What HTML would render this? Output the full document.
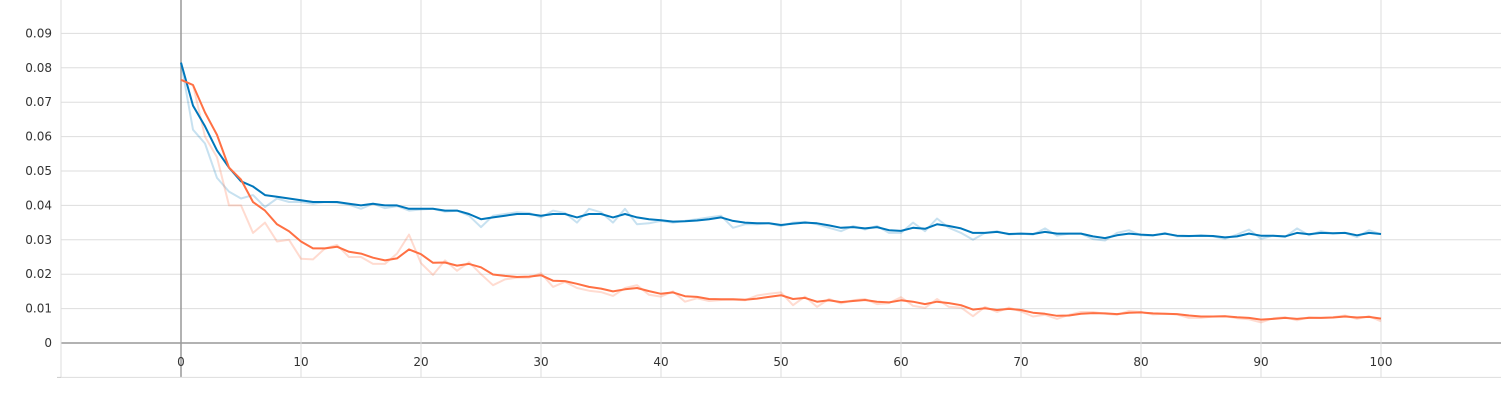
<!DOCTYPE html>
<html><head><meta charset="utf-8"><style>
html,body{margin:0;padding:0;background:#fff;}
svg{display:block;font-family:"DejaVu Sans","Liberation Sans",sans-serif;font-size:12px;}
</style></head><body>
<svg id="chart" width="1501" height="400" viewBox="0 0 1501 400" xmlns="http://www.w3.org/2000/svg">
<g id="grid"></g>
<g id="axes"></g>
<g id="series"></g>
</svg>
<script>
const xTicks = [0,10,20,30,40,50,60,70,80,90,100];
const yTicks = [0,0.01,0.02,0.03,0.04,0.05,0.06,0.07,0.08,0.09];
const blueSmooth = [0.0815,0.069,0.063,0.056,0.051,0.047,0.0455,0.043,0.0425,0.042,0.0415,0.041,0.041,0.041,0.0405,0.040,0.0405,0.040,0.040,0.039,0.039,0.039,0.0385,0.0385,0.0375,0.036,0.0365,0.037,0.0375,0.0375,0.037,0.0375,0.0375,0.0365,0.0375,0.0375,0.0365,0.0375,0.0365,0.036,0.0357,0.0353,0.0354,0.0356,0.036,0.0365,0.0355,0.035,0.0348,0.0348,0.0343,0.0347,0.035,0.0348,0.0342,0.0335,0.0337,0.0333,0.0337,0.0328,0.0326,0.0335,0.0332,0.0345,0.034,0.0333,0.032,0.032,0.0323,0.0317,0.0318,0.0317,0.0323,0.0318,0.0318,0.0318,0.031,0.0305,0.0313,0.0318,0.0315,0.0313,0.0318,0.0312,0.0311,0.0312,0.0311,0.0307,0.031,0.0318,0.0312,0.0312,0.031,0.032,0.0316,0.032,0.0319,0.032,0.0313,0.032,0.0317];
const blueRaw = [0.0815,0.062,0.058,0.048,0.044,0.042,0.043,0.0395,0.042,0.041,0.041,0.0405,0.041,0.0408,0.0402,0.039,0.0405,0.0392,0.0398,0.0385,0.0388,0.039,0.0382,0.0385,0.037,0.0337,0.037,0.0375,0.038,0.0378,0.0365,0.0385,0.0378,0.035,0.039,0.038,0.035,0.039,0.0345,0.0348,0.0355,0.035,0.0355,0.036,0.0365,0.037,0.0335,0.0345,0.0345,0.0348,0.034,0.035,0.0352,0.0345,0.0335,0.0325,0.034,0.033,0.034,0.032,0.032,0.035,0.0325,0.0362,0.0335,0.032,0.030,0.032,0.0325,0.0315,0.0318,0.0315,0.0333,0.0312,0.0318,0.0318,0.0302,0.0298,0.032,0.0328,0.0313,0.0312,0.032,0.031,0.031,0.0313,0.031,0.0303,0.0315,0.033,0.0303,0.0312,0.0308,0.0333,0.0313,0.0325,0.0318,0.032,0.0308,0.0328,0.0316];
const redSmooth = [0.0765,0.075,0.067,0.0605,0.051,0.0475,0.041,0.0385,0.0345,0.0325,0.0295,0.0275,0.0275,0.028,0.0265,0.026,0.0248,0.024,0.0246,0.0272,0.0258,0.0233,0.0234,0.0225,0.023,0.022,0.0199,0.0195,0.0192,0.0193,0.0197,0.0181,0.018,0.0172,0.0163,0.0158,0.015,0.0156,0.016,0.0151,0.0143,0.0147,0.0136,0.0134,0.0128,0.0127,0.0127,0.0126,0.0129,0.0134,0.0139,0.0128,0.0131,0.012,0.0124,0.0119,0.0122,0.0125,0.012,0.0118,0.0124,0.012,0.0113,0.012,0.0116,0.011,0.0097,0.0101,0.0096,0.0099,0.0096,0.0088,0.0085,0.0079,0.008,0.0085,0.0087,0.0086,0.0084,0.0088,0.0089,0.0086,0.0085,0.0084,0.008,0.0077,0.0077,0.0078,0.0075,0.0073,0.0068,0.007,0.0073,0.007,0.0073,0.0073,0.0074,0.0077,0.0074,0.0076,0.0071];
const redRaw = [0.0765,0.075,0.060,0.054,0.040,0.040,0.032,0.035,0.0295,0.030,0.0245,0.0243,0.0275,0.0285,0.025,0.025,0.023,0.023,0.026,0.0315,0.0232,0.0198,0.024,0.021,0.0235,0.020,0.0168,0.0185,0.019,0.019,0.0203,0.0163,0.0178,0.016,0.0152,0.0148,0.0137,0.016,0.0168,0.014,0.0135,0.015,0.012,0.013,0.0122,0.0125,0.0126,0.0124,0.0138,0.0143,0.0147,0.011,0.0135,0.0105,0.0128,0.0115,0.0124,0.0128,0.0113,0.0116,0.0133,0.0108,0.0102,0.0128,0.0105,0.0103,0.0078,0.0105,0.009,0.0103,0.0092,0.0077,0.0082,0.007,0.0082,0.009,0.009,0.0085,0.0082,0.0093,0.009,0.0083,0.0085,0.0083,0.0073,0.0073,0.0077,0.0078,0.0072,0.0069,0.006,0.0072,0.0075,0.0066,0.0075,0.0073,0.0075,0.008,0.007,0.0078,0.0063];

const NS = "http://www.w3.org/2000/svg";
const X0 = 61, X1 = 1501, XMIN = -10, XMAX = 110;
const Y0 = 343, YPER = 3440; // px per unit
function xs(v){ return X0 + (v - XMIN) * (X1 - X0) / (XMAX - XMIN); }
function ys(v){ return Y0 - v * YPER; }
function mk(tag, attrs, parent){ const e = document.createElementNS(NS, tag); for (const k in attrs) e.setAttribute(k, attrs[k]); parent.appendChild(e); return e; }

const grid = document.getElementById('grid');
const axes = document.getElementById('axes');
const series = document.getElementById('series');

for (const t of yTicks) {
  const y = ys(t);
  const ln = mk('line', {x1: X0, x2: X1, y1: y, y2: y, stroke: t === 0 ? '#999' : '#ddd', 'stroke-width': t === 0 ? 1.5 : 1}, grid);
  
  
  const tx = mk('text', {x: 52, y: y + 4, 'text-anchor': 'end', fill: '#333'}, axes);
  tx.textContent = t === 0 ? '0' : t.toFixed(2);
  
  
}
const yb = ys(-0.01);
for (const t of xTicks) {
  const x = xs(t);
  const ln = mk('line', {x1: x, x2: x, y1: 0, y2: yb, stroke: t === 0 ? '#999' : '#ddd', 'stroke-width': t === 0 ? 1.5 : 1}, grid);
  
  
  const tx = mk('text', {x: x, y: 366, 'text-anchor': 'middle', fill: '#333'}, axes);
  tx.textContent = String(t);
  
  
}
const la = mk('line', {x1: X0, x2: X0, y1: 0, y2: yb, stroke: '#ddd', 'stroke-width': 1}, axes);


const lb = mk('line', {x1: X0, x2: X1, y1: yb, y2: yb, stroke: '#ddd', 'stroke-width': 1}, axes);


const tk = mk('line', {x1: X0 - 4, x2: X0, y1: yb, y2: yb, stroke: '#ccc', 'stroke-width': 1}, axes);



function pts(arr){ return arr.map((v, i) => xs(i).toFixed(1) + ',' + ys(v).toFixed(1)).join(' '); }
const s1 = mk('polyline', {points: pts(blueRaw), fill: 'none', stroke: '#0077bb', 'stroke-opacity': 0.22, 'stroke-width': 2, 'stroke-linejoin': 'round'}, series);


const s2 = mk('polyline', {points: pts(redRaw), fill: 'none', stroke: '#ff7043', 'stroke-opacity': 0.25, 'stroke-width': 2, 'stroke-linejoin': 'round'}, series);


const s3 = mk('polyline', {points: pts(blueSmooth), fill: 'none', stroke: '#0077bb', 'stroke-width': 2, 'stroke-linejoin': 'round'}, series);


const s4 = mk('polyline', {points: pts(redSmooth), fill: 'none', stroke: '#ff7043', 'stroke-width': 2, 'stroke-linejoin': 'round'}, series);


</script>
</body></html>
